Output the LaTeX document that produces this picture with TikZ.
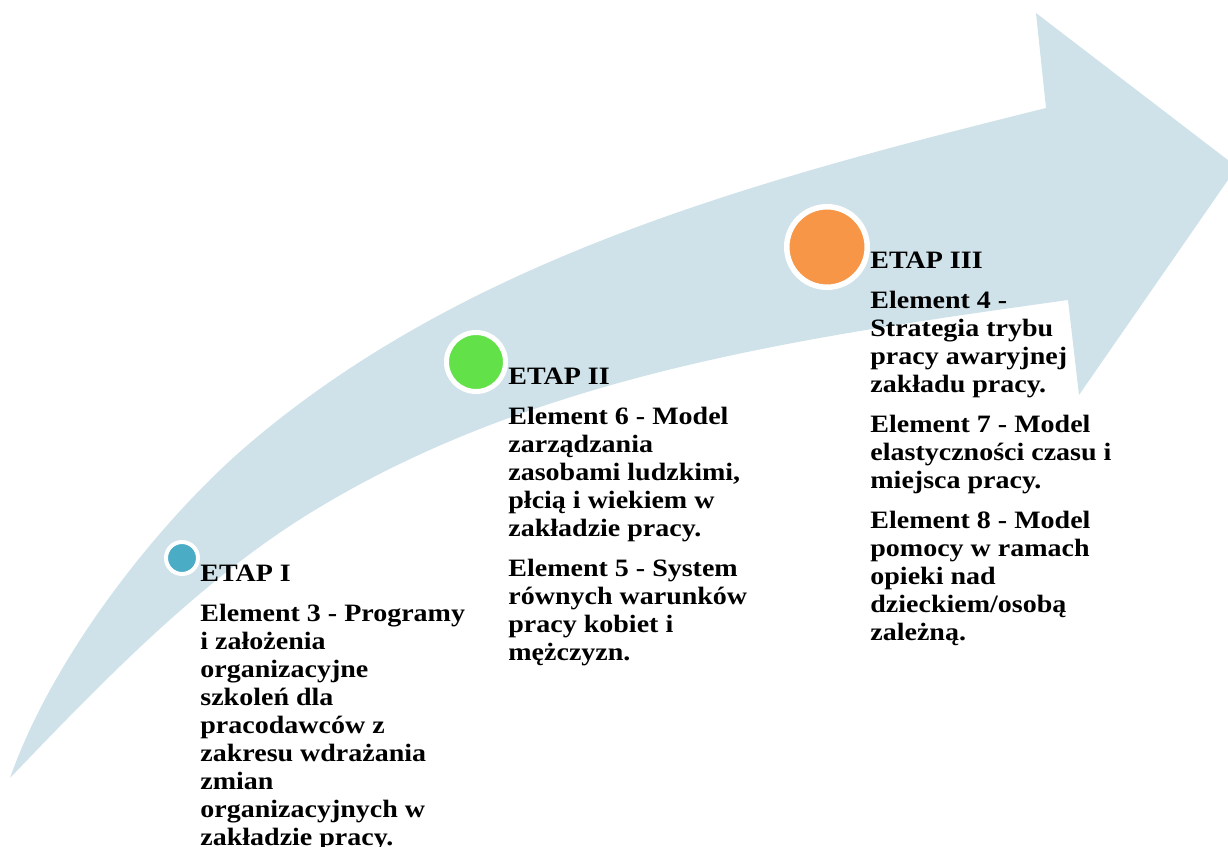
\documentclass[tikz,border=0pt]{standalone}
\usepackage{fontspec}
\setmainfont{Liberation Serif}[FakeStretch=1.12]
\usepackage{tikz}
\usetikzlibrary{positioning}
\definecolor{bandblue}{RGB}{208,226,233}
\definecolor{dotblue}{RGB}{75,172,198}
\definecolor{dotgreen}{RGB}{98,226,72}
\definecolor{dotorange}{RGB}{247,150,70}
\tikzset{
  band/.style = {fill=bandblue},
  dot/.style = {circle, inner sep=0pt, draw=white, fill=#1},
  stage/.style = {align=left, inner sep=0pt, anchor=north west,
    font=\fontsize{12.5pt}{14pt}\selectfont\bfseries}
}

\begin{document}
\begin{tikzpicture}[x=0.5pt, y=-0.5pt]
\useasboundingbox (0,0) rectangle (1228,847);
\clip (0,0) rectangle (1228,847);
% the curved arrow
\fill[band] (10,778) .. controls (55,650) and (166,514) .. (250,443)
  .. controls (471,255) and (765,178) .. (1046,108)
  -- (1036,13) -- (1237,167) -- (1079,395) -- (1068,300)
  .. controls (811,336) and (543,373) .. (320,507)
  .. controls (204,576) and (103,681) .. (10,778) -- cycle;
% stages
\node[dot=dotblue, minimum size=16pt, line width=2pt] (d1) at (182,558) {};
\node[dot=dotgreen, minimum size=29.5pt, line width=2.5pt] (d2) at (476,362) {};
\node[dot=dotorange, minimum size=40.25pt, line width=2.75pt] (d3) at (827,247) {};
\node[stage] (s1) at (200,564.5) {ETAP I\\[6pt]
  Element 3 - Programy\\ i założenia\\ organizacyjne\\ szkoleń dla\\
  pracodawców z\\ zakresu wdrażania\\ zmian\\ organizacyjnych w\\
  zakładzie pracy.};
\node[stage] (s2) at (508,367.5) {ETAP II\\[6pt]
  Element 6 - Model\\ zarządzania\\ zasobami ludzkimi,\\ płcią i wiekiem w\\
  zakładzie pracy.\\[6pt]
  Element 5 - System\\ równych warunków\\ pracy kobiet i\\ mężczyzn.};
\node[stage] (s3) at (870,251.5) {ETAP III\\[6pt]
  Element 4 -\\ Strategia trybu\\ pracy awaryjnej\\ zakładu pracy.\\[6pt]
  Element 7 - Model\\ elastyczności czasu i\\ miejsca pracy.\\[6pt]
  Element 8 - Model\\ pomocy w ramach\\ opieki nad\\ dzieckiem/osobą\\
  zależną.};
\end{tikzpicture}
\end{document}
